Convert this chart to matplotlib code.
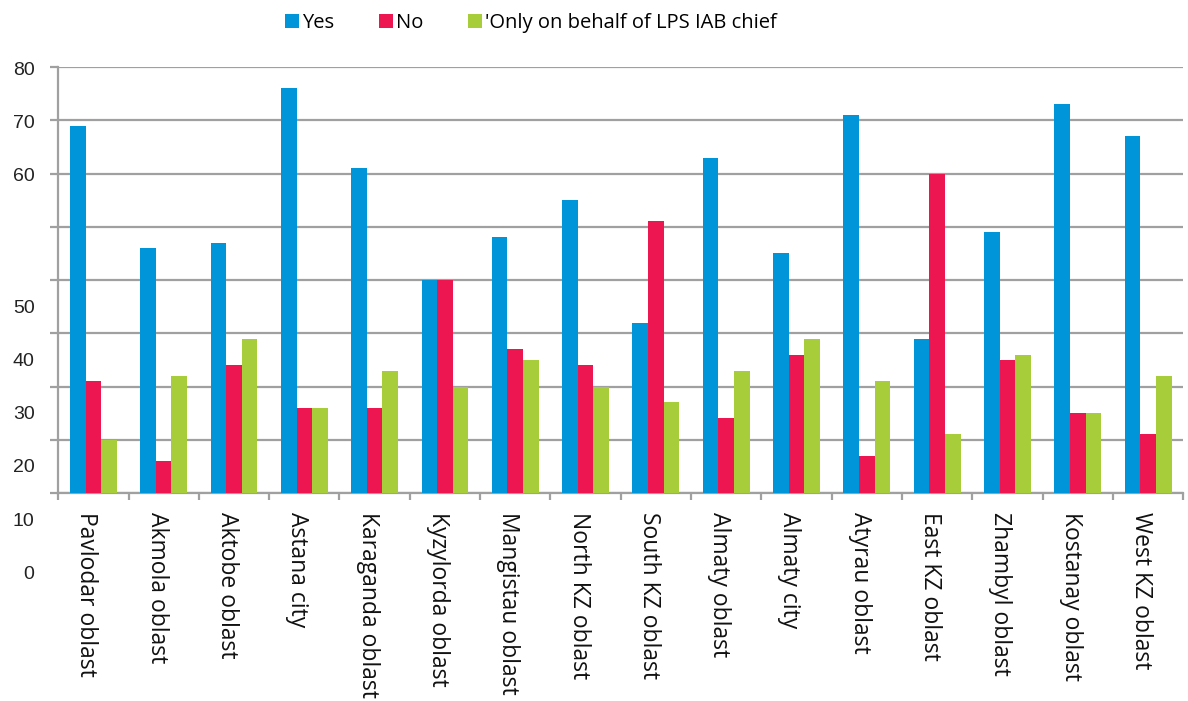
import numpy as np
import matplotlib
matplotlib.use("Agg")
import matplotlib.pyplot as plt

regions = ["Pavlodar oblast", "Akmola oblast", "Aktobe oblast", "Astana city",
           "Karaganda oblast", "Kyzylorda oblast", "Mangistau oblast", "North KZ oblast",
           "South KZ oblast", "Almaty oblast", "Almaty city", "Atyrau oblast",
           "East KZ oblast", "Zhambyl oblast", "Kostanay oblast", "West KZ oblast"]
yes = [69, 46, 47, 76, 61, 40, 48, 55, 32, 63, 45, 71, 29, 49, 73, 67]
no = [21, 6, 24, 16, 16, 40, 27, 24, 51, 14, 26, 7, 60, 25, 15, 11]
chief = [10, 22, 29, 16, 23, 20, 25, 20, 17, 23, 29, 21, 11, 26, 15, 22]
series_names = ["Yes", "No", "'Only on behalf of LPS IAB chief"]
ytick_labels = ["80", "70", "60", "50", "40", "30", "20", "10", "0"]

colors = ["#0094D8", "#EE1651", "#A7CE3A"]
grid_col = "#A0A0A0"

fig = plt.figure(figsize=(11.88, 7.01), dpi=100)
ax = fig.add_axes([0.049, 0.2967, 0.947, 0.6077])

x = np.arange(len(regions))
w = 1 / 4.5
bars = []
for i, vals in enumerate([yes, no, chief]):
    b = ax.bar(x + (i - 1) * w, vals, width=w, color=colors[i], zorder=3,
               label=series_names[i])
    bars.append(b)

ax.set_xlim(-0.5, len(regions) - 0.5)
ax.set_ylim(0, 80)
ax.set_yticks(np.arange(0, 81, 10))
ax.set_yticklabels([])
ax.yaxis.grid(True, color=grid_col, linewidth=1.6, zorder=0)
ax.tick_params(axis="y", length=6, width=1.6, color=grid_col)

# category boundaries as ticks
ax.set_xticks(np.arange(-0.5, len(regions)), minor=True)
ax.set_xticks([])
ax.tick_params(axis="x", which="minor", length=5, width=1.6, color=grid_col)
for s in ["top", "right"]:
    ax.spines[s].set_visible(False)
for s in ["left", "bottom"]:
    ax.spines[s].set_color(grid_col)
    ax.spines[s].set_linewidth(1.6)

# y labels, drawn shifted like in the source
for lab in ytick_labels:
    v = int(lab)
    yy = v - 0.6 if v >= 60 else v - 15.3
    ax.text(-0.021, yy, lab, transform=ax.get_yaxis_transform(), ha="right",
            va="center", fontsize=14, family="Liberation Sans", color="#222222",
            clip_on=False)

for i, name in enumerate(regions):
    ax.text(i - 0.1, -3.5, name, rotation=-90, ha="center", va="top",
            fontsize=16.5, family="Open Sans", color="#111111", clip_on=False)

fig.legend(handles=bars, labels=series_names, loc="center", ncol=3,
           bbox_to_anchor=(531 / 1188, 1 - 23 / 701), frameon=False,
           prop={"family": "Open Sans", "size": 14.5}, handlelength=0.7,
           handleheight=0.7, handletextpad=0.15, columnspacing=2.2)

fig.savefig("out.png", dpi=100)
